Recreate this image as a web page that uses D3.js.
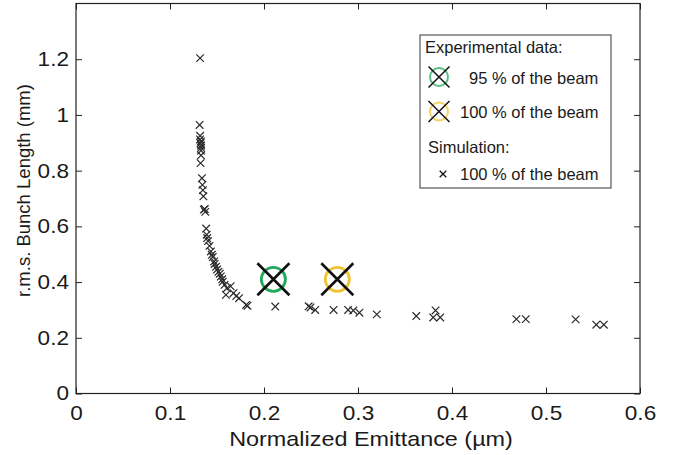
<!DOCTYPE html>
<html>
<head>
<meta charset="utf-8">
<script src="https://cdn.jsdelivr.net/npm/d3@7"></script>
<style>
  body { margin: 0; background: #fff; }
  svg text { font-family: "Liberation Sans", Arial, sans-serif; fill: #1a1a1a; }
</style>
</head>
<body>
<div id="chart"></div>
<script>
// Simulation points (100 % of the beam)
var simX = [0.132, 0.1315, 0.132, 0.132, 0.133, 0.1325, 0.133, 0.133, 0.133, 0.133, 0.1325,
            0.134, 0.1345, 0.135, 0.1355, 0.136, 0.1375, 0.137,
            0.1385, 0.139, 0.1395, 0.1405, 0.142, 0.1435, 0.1445, 0.1455, 0.147, 0.1475, 0.149, 0.15,
            0.1515, 0.153, 0.154, 0.1555, 0.156, 0.158, 0.1605, 0.1645, 0.1595, 0.1675, 0.1705, 0.1735,
            0.181, 0.1825, 0.212, 0.2475, 0.2495, 0.2545, 0.274, 0.2895, 0.295, 0.3015, 0.32, 0.362,
            0.3825, 0.38, 0.3875, 0.4685, 0.4785, 0.5315, 0.5535, 0.5615];
var simY = [1.204, 0.964, 0.925, 0.912, 0.905, 0.898, 0.89, 0.882, 0.872, 0.855, 0.827,
            0.773, 0.749, 0.73, 0.708, 0.66, 0.652, 0.662,
            0.592, 0.57, 0.558, 0.547, 0.53, 0.51, 0.498, 0.49, 0.474, 0.465, 0.455, 0.445,
            0.437, 0.43, 0.42, 0.41, 0.401, 0.39, 0.378, 0.385, 0.354, 0.36, 0.35, 0.342,
            0.318, 0.315, 0.312, 0.313, 0.309, 0.30, 0.30, 0.30, 0.298, 0.29, 0.284, 0.278,
            0.298, 0.273, 0.273, 0.267, 0.267, 0.266, 0.247, 0.247];

// Experimental data
var expX = [0.21, 0.278];
var expY = [0.41, 0.41];
var expColors = ["#22a85a", "#f0c430"];
var expLabels = ["95 % of the beam", "100 % of the beam"];

var xTicks = [0, 0.1, 0.2, 0.3, 0.4, 0.5, 0.6];
var yTicks = [0, 0.2, 0.4, 0.6, 0.8, 1, 1.2];

var width = 683, height = 455;
var margin = { top: 3.5, right: 43, bottom: 61.5, left: 76 };

var svg = d3.select("#chart").append("svg")
            .attr("width", width)
            .attr("height", height);

var xScale = d3.scaleLinear().domain([0, 0.6]).range([margin.left, width - margin.right]);
var yScale = d3.scaleLinear().domain([0, 1.4]).range([height - margin.bottom, margin.top]);

// axes (MATLAB style, ticks inward on all sides)
var tickLen = 6;
var stretch = 1.13; // the source figure is a bit wider than tall
function styleAxis(g) {
  g.select(".domain").remove();
  g.selectAll("line").attr("stroke", "#222").attr("stroke-width", 1);
  g.selectAll("text").style("font-size", "20px").attr("fill", "#1a1a1a");
}

svg.append("g")
   .attr("transform", "translate(0," + yScale(0) + ")")
   .call(d3.axisBottom(xScale).tickValues(xTicks).tickFormat(d3.format("")).tickSizeInner(-tickLen).tickPadding(12))
   .call(styleAxis)
   .selectAll("text")
   .attr("transform", "scale(" + stretch + ",1)");
svg.append("g")
   .attr("transform", "translate(0," + yScale(1.4) + ")")
   .call(d3.axisTop(xScale).tickValues(xTicks).tickFormat("").tickSizeInner(-tickLen))
   .call(styleAxis);
svg.append("g")
   .attr("transform", "translate(" + xScale(0) + ",0)")
   .call(d3.axisLeft(yScale).tickValues(yTicks).tickFormat(d3.format("")).tickSizeInner(-tickLen))
   .call(styleAxis)
   .selectAll("text")
   .attr("x", 0)
   .attr("transform", "translate(-7,0) scale(" + stretch + ",1)");
svg.append("g")
   .attr("transform", "translate(" + xScale(0.6) + ",0)")
   .call(d3.axisRight(yScale).tickValues(yTicks).tickFormat("").tickSizeInner(-tickLen))
   .call(styleAxis);

svg.append("rect")
   .attr("x", xScale(0)).attr("y", yScale(1.4))
   .attr("width", xScale(0.6) - xScale(0))
   .attr("height", yScale(0) - yScale(1.4))
   .attr("fill", "none").attr("stroke", "#222").attr("stroke-width", 1.2);

// axis labels
svg.append("text")
   .attr("transform", "translate(371,446) scale(1.17,1)")
   .attr("text-anchor", "middle")
   .style("font-size", "20px")
   .text("Normalized Emittance (\u00b5m)");

svg.append("text")
   .attr("transform", "translate(30," + ((yScale(0) + yScale(1.4)) / 2 - 8) + ") rotate(-90)")
   .attr("text-anchor", "middle")
   .style("font-size", "18.5px")
   .text("r.m.s. Bunch Length (mm)");

// cross marker path
function crossPath(s) {
  return "M" + (-s) + "," + (-s) + "L" + s + "," + s + "M" + (-s) + "," + s + "L" + s + "," + (-s);
}

var simData = simX.map(function(x, i) { return { x: x, y: simY[i] }; });
svg.append("g").selectAll("path")
   .data(simData)
   .enter()
   .append("path")
   .attr("transform", function(d) { return "translate(" + xScale(d.x) + "," + yScale(d.y) + ")"; })
   .attr("d", crossPath(3.8))
   .attr("fill", "none")
   .attr("stroke", "#2a2a2a")
   .attr("stroke-width", 1.2);

var expData = expX.map(function(x, i) { return { x: x, y: expY[i], color: expColors[i] }; });
var expG = svg.append("g").selectAll("g")
   .data(expData)
   .enter()
   .append("g")
   .attr("transform", function(d) { return "translate(" + xScale(d.x) + "," + yScale(d.y) + ")"; });
expG.append("circle")
    .attr("r", 12)
    .attr("fill", "none")
    .attr("stroke", function(d) { return d.color; })
    .attr("stroke-width", 2.8);
expG.append("path")
    .attr("d", crossPath(16))
    .attr("stroke", "#111")
    .attr("stroke-width", 2.6);

// legend
var legend = svg.append("g");
legend.append("rect")
      .attr("x", 420).attr("y", 35)
      .attr("width", 191).attr("height", 153)
      .attr("fill", "#fff").attr("stroke", "#555").attr("stroke-width", 1.2);
legend.append("text").attr("x", 425).attr("y", 53).style("font-size", "16.5px").text("Experimental data:");

var legRows = [77, 111.5];
var legTextX = [469, 460];
expColors.forEach(function(c, i) {
  var g = legend.append("g").attr("transform", "translate(439," + legRows[i] + ")");
  g.append("circle").attr("r", 9).attr("fill", "none").attr("stroke", c).attr("stroke-width", 2).attr("opacity", 0.75);
  g.append("path").attr("d", crossPath(10.5)).attr("stroke", "#111").attr("stroke-width", 1.5);
  legend.append("text").attr("x", legTextX[i]).attr("y", legRows[i] + 6.5).style("font-size", "16.5px").text(expLabels[i]);
});

legend.append("text").attr("x", 428).attr("y", 153).style("font-size", "16.5px").text("Simulation:");
legend.append("path")
      .attr("transform", "translate(443,174)")
      .attr("d", crossPath(3.3))
      .attr("stroke", "#111").attr("stroke-width", 1.3);
legend.append("text").attr("x", 460).attr("y", 180).style("font-size", "16.5px").text("100 % of the beam");
</script>
</body>
</html>
